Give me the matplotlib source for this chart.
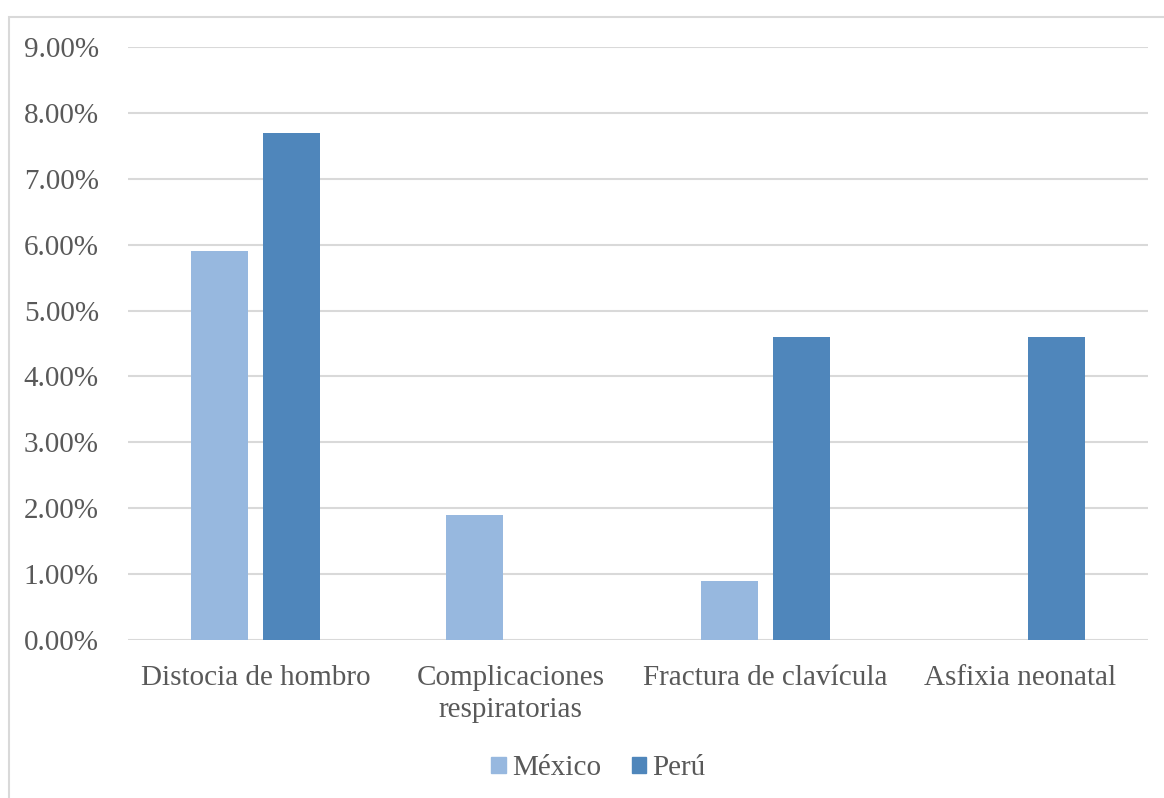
import matplotlib
matplotlib.use("Agg")
import matplotlib.pyplot as plt
import numpy as np
from matplotlib.patches import Rectangle
from matplotlib.ticker import FuncFormatter

categories = ["Distocia de hombro", "Complicaciones\nrespiratorias",
              "Fractura de clavícula", "Asfixia neonatal"]
mexico = [0.059, 0.019, 0.009, 0.0]
peru = [0.077, 0.0, 0.046, 0.046]
series_names = ["México", "Perú"]
yticks = np.arange(0, 0.091, 0.01)

TEXT = "#595959"
GRID = "#d9d9d9"
C_MEX = "#97b8df"
C_PER = "#4f86bb"

plt.rcParams["font.family"] = ["Liberation Serif", "DejaVu Serif"]
plt.rcParams["font.size"] = 21

fig = plt.figure(figsize=(11.64, 7.98), dpi=100)
ax = fig.add_axes([0.110, 0.198, 0.8763, 0.743])

x = np.arange(len(categories))
width = 0.224
offset = 0.1415
ax.bar(x - offset, mexico, width, color=C_MEX, zorder=3)
ax.bar(x + offset, peru, width, color=C_PER, zorder=3)

ax.set_xlim(-0.5, len(categories) - 0.5)
ax.set_ylim(0, 0.09)
ax.set_yticks(yticks)
ax.yaxis.set_major_formatter(FuncFormatter(lambda v, _: f"{v * 100:.2f}%"))
ax.set_xticks(x)
ax.set_xticklabels(categories, linespacing=1.32)

ax.grid(axis="y", color=GRID, linewidth=1.5, zorder=0)
for s in ax.spines.values():
    s.set_visible(False)
ax.tick_params(axis="y", length=0, pad=21, colors=TEXT, labelsize=21)
ax.tick_params(axis="x", length=0, pad=18, colors=TEXT, labelsize=21)

handles = [Rectangle((0, 0), 1, 1, color=C_MEX), Rectangle((0, 0), 1, 1, color=C_PER)]
leg = fig.legend(handles, series_names, loc="center", bbox_to_anchor=(0.514, 0.037),
                 ncol=2, frameon=False, handlelength=0.5, handleheight=0.5,
                 handletextpad=0.2, columnspacing=1.05, fontsize=21)
for t in leg.get_texts():
    t.set_color(TEXT)

# outer chart frame (left and top edges fall inside the image)
fig.patches.append(Rectangle((9 / 1164, -0.1), 2, 1.1 - 17 / 798,
                             transform=fig.transFigure, fill=False,
                             edgecolor=GRID, linewidth=1.5))

fig.savefig("out.png", dpi=100)
